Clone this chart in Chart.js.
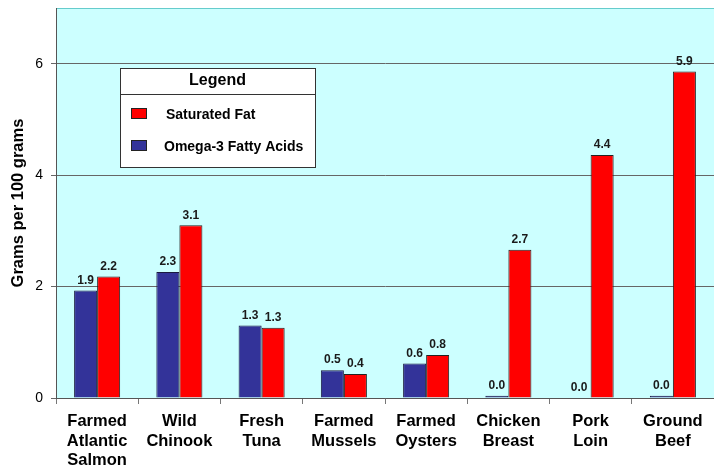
<!DOCTYPE html>
<html>
<head>
<meta charset="utf-8">
<script src="https://cdn.jsdelivr.net/npm/chart.js@4.4.1/dist/chart.umd.min.js"></script>
<style>
  html, body { margin: 0; padding: 0; background: #ffffff; }
  #wrap { width: 714px; height: 466px; position: relative; }
</style>
</head>
<body>
<div id="wrap"><canvas id="fatChart" width="714" height="466"></canvas></div>
<script>
// chart data
const categories = [
    ["Farmed", "Atlantic", "Salmon"],
    ["Wild", "Chinook"],
    ["Fresh", "Tuna"],
    ["Farmed", "Mussels"],
    ["Farmed", "Oysters"],
    ["Chicken", "Breast"],
    ["Pork", "Loin"],
    ["Ground", "Beef"]
];
const omega3 = [1.93, 2.26, 1.30, 0.50, 0.62, 0.04, 0.0, 0.04];
const satFat = [2.18, 3.10, 1.26, 0.43, 0.77, 2.66, 4.36, 5.86];
const yTicks = [0, 2, 4, 6];
const legendTitle = "Legend";

const FONT = "'Liberation Sans', Arial, sans-serif";

/* plot background + top border */
const plotBg = {
    id: 'plotBg',
    beforeDraw(chart) {
        const {ctx, chartArea: a} = chart;
        ctx.save();
        ctx.fillStyle = '#ccffff';
        ctx.fillRect(a.left, a.top, a.right - a.left, a.bottom - a.top);
        ctx.strokeStyle = '#66cccc';
        ctx.lineWidth = 1;
        ctx.beginPath();
        ctx.moveTo(a.left, a.top + 0.5);
        ctx.lineTo(a.right, a.top + 0.5);
        ctx.moveTo(a.left + 0.5, a.top);
        ctx.lineTo(a.left + 0.5, a.bottom);
        ctx.stroke();
        ctx.restore();
    }
};

/* value labels above each bar */
const valueLabels = {
    id: 'valueLabels',
    afterDatasetsDraw(chart) {
        const ctx = chart.ctx;
        ctx.save();
        ctx.font = "bold 12px " + FONT;
        ctx.fillStyle = '#1a1a1a';
        ctx.textAlign = 'center';
        ctx.textBaseline = 'bottom';
        chart.data.datasets.forEach((ds, i) => {
            chart.getDatasetMeta(i).data.forEach((bar, j) => {
                ctx.fillText(ds.data[j].toFixed(1), bar.x, bar.y - 4);
            });
        });
        ctx.restore();
    }
};

/* boxed legend inside the plot */
const boxLegend = {
    id: 'boxLegend',
    afterDraw(chart) {
        const ctx = chart.ctx;
        const x = 120, y = 68, w = 195, h = 99;
        ctx.save();
        ctx.fillStyle = '#ffffff';
        ctx.fillRect(x, y, w, h);
        ctx.strokeStyle = '#333333';
        ctx.lineWidth = 1;
        ctx.strokeRect(x + 0.5, y + 0.5, w, h);
        ctx.beginPath();
        ctx.moveTo(x, y + 26.5);
        ctx.lineTo(x + w, y + 26.5);
        ctx.stroke();

        ctx.fillStyle = '#000';
        ctx.font = "bold 16px " + FONT;
        ctx.textAlign = 'center';
        ctx.textBaseline = 'middle';
        ctx.fillText(legendTitle, x + w / 2, y + 13);

        // legend order: saturated fat first, then omega-3
        const order = [1, 0];
        ctx.font = "bold 14px " + FONT;
        order.forEach((di, k) => {
            const ds = chart.data.datasets[di];
            const ry = y + 46 + k * 32;
            ctx.fillStyle = ds.backgroundColor;
            ctx.fillRect(x + 11, ry - 6, 16, 11);
            ctx.strokeStyle = '#222';
            ctx.strokeRect(x + 11.5, ry - 5.5, 15, 10);
            ctx.fillStyle = '#000';
            ctx.textAlign = 'left';
            ctx.fillText(ds.label, x + (di === 1 ? 46 : 44), ry + 1);
        });
        ctx.restore();
    }
};

new Chart(document.getElementById('fatChart'), {
    type: 'bar',
    data: {
        labels: categories,
        datasets: [
            {
                label: 'Omega-3 Fatty Acids',
                data: omega3,
                backgroundColor: '#333399',
                borderColor: '#1a1a40',
                borderWidth: 1,
                categoryPercentage: 0.56,
                barPercentage: 1.0
            },
            {
                label: 'Saturated Fat',
                data: satFat,
                backgroundColor: '#ff0000',
                borderColor: '#222222',
                borderWidth: 1,
                categoryPercentage: 0.56,
                barPercentage: 1.0
            }
        ]
    },
    options: {
        responsive: false,
        animation: false,
        layout: { padding: { top: 8, right: 0, left: 0, bottom: 0 } },
        plugins: {
            legend: { display: false },
            tooltip: { enabled: false }
        },
        scales: {
            x: {
                grid: {
                    offset: true,
                    drawOnChartArea: false,
                    drawTicks: true,
                    tickLength: 6,
                    color: '#777777'
                },
                border: { color: '#555555' },
                ticks: {
                    color: '#000',
                    font: { family: FONT, size: 16.5, weight: 'bold', lineHeight: 1.18 },
                    padding: 8,
                    maxRotation: 0,
                    autoSkip: false
                },
                afterFit(scale) { scale.height = 68; }
            },
            y: {
                min: 0,
                max: 7,
                afterBuildTicks(scale) {
                    scale.ticks = yTicks.map(v => ({value: v}));
                },
                grid: {
                    color: '#666666',
                    drawTicks: true,
                    tickLength: 5
                },
                border: { color: '#555555' },
                ticks: {
                    color: '#000',
                    font: { family: FONT, size: 14 },
                    padding: 8
                },
                title: {
                    display: true,
                    text: 'Grams per 100 grams',
                    color: '#000',
                    font: { family: FONT, size: 16.5, weight: 'bold' },
                    padding: { top: 9, bottom: 0 }
                },
                afterFit(scale) {
                    scale.width = 56;
                    scale.paddingTop = 0;
                    scale.paddingBottom = 0;
                }
            }
        }
    },
    plugins: [plotBg, valueLabels, boxLegend]
});
</script>
</body>
</html>
